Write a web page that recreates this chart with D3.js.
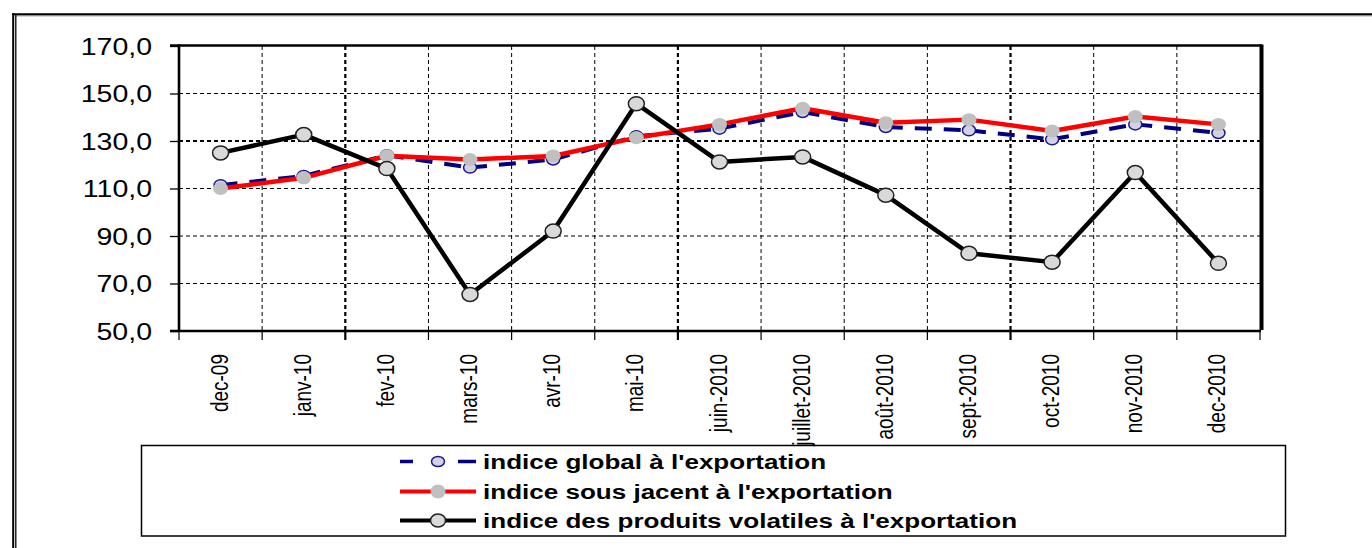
<!DOCTYPE html>
<html>
<head>
    <title>Indices à l'exportation</title>
    <script src="https://d3js.org/d3.v7.min.js"></script>
    <style>
        body { margin: 0; background: #fff; }
        svg { display: block; }
        text { font-family: "Liberation Sans", Arial, sans-serif; fill: #000; }
    </style>
</head>
<body>
    <svg id="chartdiv"></svg>
    <script>
        // data
        const categories = ["dec-09", "janv-10", "fev-10", "mars-10", "avr-10", "mai-10", "juin-2010",
                            "juillet-2010", "août-2010", "sept-2010", "oct-2010", "nov-2010", "dec-2010"];
        const indiceGlobal = [111.4, 115.3, 124.0, 118.8, 122.2, 132.0, 135.2, 142.2, 135.9, 134.5, 130.7, 137.0, 133.4];
        const indiceSousJacent = [110.0, 114.5, 123.8, 122.2, 123.7, 131.4, 137.0, 143.8, 137.7, 139.0, 134.2, 140.3, 137.0];
        const indiceVolatiles = [125.0, 132.7, 118.4, 65.4, 92.1, 145.7, 121.2, 123.3, 107.2, 82.7, 79.0, 116.7, 78.5];
        const yTicks = [50, 70, 90, 110, 130, 150, 170];
        const seriesNames = ["indice global à l'exportation", "indice sous jacent à l'exportation",
                             "indice des produits volatiles à l'exportation"];

        const width = 1372, height = 548;
        const plotLeft = 179, plotRight = 1260, plotTop = 46, plotBottom = 331;
        const stretch = 1.24; // the original picture is stretched horizontally

        const svg = d3.select("#chartdiv").attr("width", width).attr("height", height);
        svg.append("rect").attr("width", width).attr("height", height).attr("fill", "#fff");

        // outer frame (double line on the left)
        svg.append("line").attr("x1", 12).attr("x2", width).attr("y1", 14.3).attr("y2", 14.3)
            .attr("stroke", "#000").attr("stroke-width", 2);
        svg.append("line").attr("x1", 16).attr("x2", width).attr("y1", 15.8).attr("y2", 15.8)
            .attr("stroke", "#777").attr("stroke-width", 1);
        svg.append("line").attr("x1", 13.2).attr("x2", 13.2).attr("y1", 13.3).attr("y2", height)
            .attr("stroke", "#000").attr("stroke-width", 2);
        svg.append("line").attr("x1", 15.8).attr("x2", 15.8).attr("y1", 15).attr("y2", height)
            .attr("stroke", "#000").attr("stroke-width", 1.3);

        const x = d3.scaleBand().domain(categories).range([plotLeft, plotRight]);
        const bw = x.bandwidth();
        const cx = c => x(c) + bw / 2;
        const y = d3.scaleLinear().domain([50, 170]).range([plotBottom, plotTop]);

        // horizontal grid
        svg.append("g").selectAll("line")
            .data(yTicks.filter(d => d > 50 && d < 170))
            .enter().append("line")
            .attr("x1", plotLeft).attr("x2", plotRight)
            .attr("y1", d => y(d)).attr("y2", d => y(d))
            .attr("stroke", "#000")
            .attr("stroke-width", d => d === 130 ? 2 : 1)
            .attr("stroke-dasharray", "4,3");

        // vertical grid at category boundaries + ticks below axis
        const bounds = d3.range(categories.length + 1).map(i => plotLeft + i * bw);
        svg.append("g").selectAll("line")
            .data(bounds.slice(1, -1))
            .enter().append("line")
            .attr("x1", d => d).attr("x2", d => d)
            .attr("y1", plotTop).attr("y2", plotBottom)
            .attr("stroke", "#000")
            .attr("stroke-width", (d, i) => (i + 1) % 4 === 2 ? 2.2 : 1)
            .attr("stroke-dasharray", "4,3");
        svg.append("g").selectAll("line")
            .data(bounds)
            .enter().append("line")
            .attr("x1", d => d).attr("x2", d => d)
            .attr("y1", plotBottom).attr("y2", plotBottom + 9)
            .attr("stroke", "#000")
            .attr("stroke-width", (d, i) => i % 4 === 2 ? 2.2 : 1.2);

        // y axis
        const yAxis = svg.append("g")
            .attr("transform", `translate(${plotLeft},0)`)
            .call(d3.axisLeft(y).tickValues(yTicks).tickSize(9)
                .tickFormat(d => d3.format(".1f")(d).replace(".", ",")));
        yAxis.select(".domain").remove();
        yAxis.selectAll(".tick line").attr("stroke", "#000").attr("stroke-width", 1.3);
        yAxis.selectAll(".tick text")
            .attr("x", (152 - plotLeft) / stretch)
            .attr("dy", "0.36em")
            .attr("transform", `scale(${stretch},1)`)
            .style("font-size", "23px")
            .style("font-family", "'Liberation Sans', Arial, sans-serif");

        // legend box (drawn before the x labels so a long label can touch it)
        const legend = svg.append("g");
        legend.append("rect")
            .attr("x", 141.5).attr("y", 445.5).attr("width", 1144).attr("height", 90.5)
            .attr("fill", "none").attr("stroke", "#000").attr("stroke-width", 1.5);

        // x axis labels
        const xAxis = svg.append("g")
            .attr("transform", `translate(0,${plotBottom})`)
            .call(d3.axisBottom(x).tickSize(0));
        xAxis.select(".domain").remove();
        xAxis.selectAll(".tick text")
            .attr("x", 0).attr("y", 0)
            .attr("dy", "0.33em")
            .attr("text-anchor", "end")
            .attr("transform", `translate(-1,23) scale(1.28,1) rotate(-90)`)
            .style("font-size", "19px")
            .style("font-family", "'Liberation Sans', Arial, sans-serif");

        // plot frame
        const frame = svg.append("g").attr("stroke", "#000").attr("fill", "none");
        frame.append("line").attr("x1", plotLeft - 9).attr("x2", plotRight + 2).attr("y1", plotTop - 0.5).attr("y2", plotTop - 0.5).attr("stroke-width", 2.6);
        frame.append("line").attr("x1", plotLeft).attr("x2", plotLeft).attr("y1", plotTop - 1.5).attr("y2", plotBottom + 1).attr("stroke-width", 2.6);
        frame.append("line").attr("x1", plotLeft - 9).attr("x2", plotRight + 1).attr("y1", plotBottom).attr("y2", plotBottom).attr("stroke-width", 2.6);
        frame.append("line").attr("x1", plotRight + 1.5).attr("x2", plotRight + 1.5).attr("y1", plotTop - 1.5).attr("y2", plotBottom - 1).attr("stroke-width", 4);

        // series
        const line = d3.line().x((d, i) => cx(categories[i])).y(d => y(d));
        const pts = arr => arr.map((v, i) => [cx(categories[i]), y(v)]);

        // global: dashed navy, dashes restart at every point
        svg.append("g").selectAll("line")
            .data(d3.pairs(pts(indiceGlobal)))
            .enter().append("line")
            .attr("x1", d => d[0][0]).attr("y1", d => d[0][1])
            .attr("x2", d => d[1][0]).attr("y2", d => d[1][1])
            .attr("stroke", "#000080").attr("stroke-width", 4)
            .attr("stroke-dasharray", "17,12");
        svg.append("g").selectAll("ellipse")
            .data(pts(indiceGlobal))
            .enter().append("ellipse")
            .attr("cx", d => d[0]).attr("cy", d => d[1])
            .attr("rx", 6.5).attr("ry", 5.5)
            .attr("fill", "#d2d2e2").attr("stroke", "#1a1a90").attr("stroke-width", 1.5);

        // sous jacent: red
        svg.append("path").datum(indiceSousJacent)
            .attr("d", line).attr("fill", "none")
            .attr("stroke", "#ff0000").attr("stroke-width", 4.5).attr("stroke-linejoin", "round");
        svg.append("g").selectAll("ellipse")
            .data(pts(indiceSousJacent))
            .enter().append("ellipse")
            .attr("cx", d => d[0]).attr("cy", d => d[1])
            .attr("rx", 7.5).attr("ry", 6.5)
            .attr("fill", "#c0c0c0");

        // volatiles: black
        svg.append("path").datum(indiceVolatiles)
            .attr("d", line).attr("fill", "none")
            .attr("stroke", "#000").attr("stroke-width", 4.5).attr("stroke-linejoin", "round");
        svg.append("g").selectAll("ellipse")
            .data(pts(indiceVolatiles))
            .enter().append("ellipse")
            .attr("cx", d => d[0]).attr("cy", d => d[1])
            .attr("rx", 8).attr("ry", 7)
            .attr("fill", "#d9d9d9").attr("stroke", "#222").attr("stroke-width", 1.5);

        // legend entries
        const rowY = [461.5, 491.5, 520.5];
        const sx1 = 400, sx2 = 476, smid = 438;

        // global symbol
        legend.append("line").attr("x1", sx1).attr("x2", sx2).attr("y1", rowY[0]).attr("y2", rowY[0])
            .attr("stroke", "#000080").attr("stroke-width", 3.5).attr("stroke-dasharray", "13,45,18");
        legend.append("ellipse").attr("cx", smid).attr("cy", rowY[0]).attr("rx", 6.5).attr("ry", 5)
            .attr("fill", "#d2d2e2").attr("stroke", "#1a1a90").attr("stroke-width", 1.5);
        // sous jacent symbol
        legend.append("line").attr("x1", sx1).attr("x2", sx2).attr("y1", rowY[1]).attr("y2", rowY[1])
            .attr("stroke", "#ff0000").attr("stroke-width", 4);
        legend.append("ellipse").attr("cx", smid).attr("cy", rowY[1]).attr("rx", 7.5).attr("ry", 7)
            .attr("fill", "#c0c0c0");
        // volatiles symbol
        legend.append("line").attr("x1", sx1).attr("x2", sx2).attr("y1", rowY[2]).attr("y2", rowY[2])
            .attr("stroke", "#000").attr("stroke-width", 4);
        legend.append("ellipse").attr("cx", smid).attr("cy", rowY[2]).attr("rx", 7.5).attr("ry", 6.5)
            .attr("fill", "#d9d9d9").attr("stroke", "#222").attr("stroke-width", 1.5);

        legend.selectAll("text.lbl")
            .data(seriesNames)
            .enter().append("text")
            .attr("class", "lbl")
            .attr("transform", (d, i) => `translate(483,${rowY[i]}) scale(${stretch},1)`)
            .attr("dy", "0.36em")
            .style("font-size", "21px")
            .style("font-weight", "bold")
            .text(d => d);
    </script>
</body>
</html>
